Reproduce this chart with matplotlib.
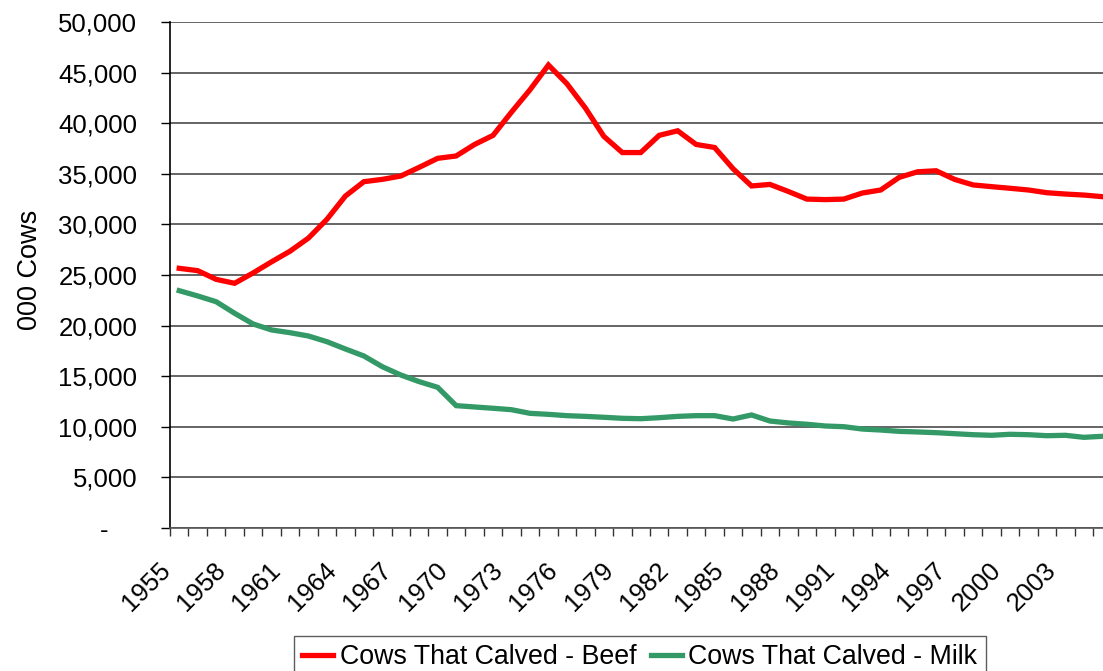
import matplotlib
matplotlib.use("Agg")
import matplotlib.pyplot as plt
import matplotlib.transforms as mtransforms
from matplotlib.ticker import FixedLocator, FuncFormatter, NullLocator

plt.rcParams['font.family'] = ['Liberation Sans', 'DejaVu Sans']

years = list(range(1955, 2006))
beef = [25660, 25430, 24570, 24180, 25200, 26300, 27350, 28650, 30500, 32800,
        34220, 34450, 34780, 35640, 36530, 36760, 37900, 38800, 41100, 43300,
        45750, 43900, 41500, 38700, 37100, 37100, 38800, 39250, 37900, 37600,
        35500, 33800, 33950, 33250, 32500, 32450, 32500, 33100, 33400, 34650,
        35200, 35300, 34450, 33900, 33730, 33570, 33400, 33130, 33000, 32900,
        32740]
milk = [23450, 22930, 22360, 21220, 20160, 19570, 19300, 18970, 18410, 17690,
        17000, 15940, 15120, 14460, 13900, 12090, 11960, 11830, 11690, 11330,
        11230, 11100, 11030, 10940, 10840, 10800, 10900, 11030, 11100, 11100,
        10770, 11170, 10570, 10380, 10250, 10080, 10010, 9780, 9680, 9550,
        9490, 9420, 9320, 9220, 9160, 9260, 9220, 9120, 9160, 8960,
        9060]
series_names = ["Cows That Calved - Beef", "Cows That Calved - Milk"]
label_years = list(range(1955, 2006, 3))

W, H = 1103, 671
fig = plt.figure(figsize=(W / 100, H / 100), dpi=100)
left_px, right_px, top_px, bot_px = 170, 1111.5, 22, 528
ax = fig.add_axes([left_px / W, 1 - bot_px / H, (right_px - left_px) / W, (bot_px - top_px) / H])

n = len(years)
xs = [i + 0.5 for i in range(n)]
ax.plot(xs, beef, color='#FF0000', lw=3.8, solid_joinstyle='miter', label=series_names[0], zorder=3)
ax.plot(xs, milk, color='#339966', lw=3.8, solid_joinstyle='miter', label=series_names[1], zorder=3)

ax.set_xlim(0, n)
ax.set_ylim(0, 50000)

# y axis
ax.set_yticks(range(0, 50001, 5000))
ax.yaxis.set_major_formatter(FuncFormatter(lambda v, p: "-    " if v == 0 else f"{int(v):,}"))
ax.tick_params(axis='y', direction='out', length=6.5, width=1, color='black', pad=17, labelsize=18.5)
ax.yaxis.grid(True, color='#3a3a3a', lw=1.1)
ax.set_axisbelow(True)

# x axis: minor ticks every category boundary, labels drawn as text
ax.xaxis.set_major_locator(NullLocator())
ax.xaxis.set_minor_locator(FixedLocator(list(range(0, n + 1))))
ax.tick_params(axis='x', which='minor', direction='out', length=6, width=1, color='#333333')
offset = mtransforms.ScaledTranslation(0, -0.38, fig.dpi_scale_trans)
trans = mtransforms.blended_transform_factory(ax.transData, ax.transAxes) + offset
for y in label_years:
    ax.text(years.index(y) - 0.2, 0, str(y), transform=trans, rotation=45,
            ha='right', va='center', rotation_mode='anchor', fontsize=18.5, clip_on=False)

for s in ['top', 'right']:
    ax.spines[s].set_visible(False)
ax.spines['left'].set_color('black')
ax.spines['left'].set_linewidth(1.2)
ax.spines['bottom'].set_color('#555555')
ax.spines['bottom'].set_linewidth(1.2)

ax.set_ylabel("000 Cows", fontsize=19.5)
ax.yaxis.set_label_coords(43 / W, 1 - 270 / H, transform=fig.transFigure)

leg = fig.legend(loc='upper left', bbox_to_anchor=(294 / W, 1 - 636 / H), ncol=2,
                 fontsize=19.3, frameon=True, fancybox=False, edgecolor='#333333',
                 handlelength=1.15, handletextpad=0.25, columnspacing=0.55,
                 borderpad=0.3, borderaxespad=0)
leg.get_frame().set_linewidth(1.0)

fig.savefig("out.png", dpi=100)
